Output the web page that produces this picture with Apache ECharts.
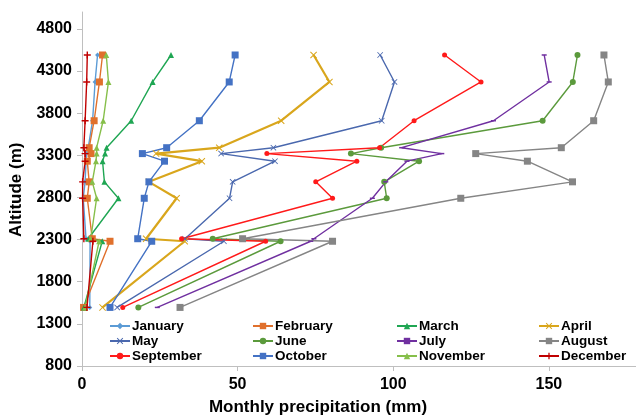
<!DOCTYPE html>
<html>
<head>
<meta charset="utf-8">
<script src="https://cdn.jsdelivr.net/npm/echarts@6/dist/echarts.min.js"></script>
<style>
html,body{margin:0;padding:0;background:#fff;}
#chart{width:636px;height:418px;}
</style>
</head>
<body>
<div id="chart"></div>
<script>
// Altitude levels (m) of the stations, top to bottom
const altitudes = [4490, 4170, 3710, 3390, 3320, 3230, 2985, 2790, 2310, 2280, 1495];
// Monthly precipitation (mm) at each altitude level
const january   = [5.0, 4.2, 3.4, 2.0, 1.4, 1.3, 1.0, 0.4, 1.3, 2.6, 2.5];
const february  = [6.6, 5.6, 3.9, 2.3, 2.9, 1.7, 2.3, 1.7, 3.3, 9.0, 0.5];
const march     = [28.6, 22.7, 15.8, 7.9, 7.4, 6.6, 7.2, 11.7, 2.0, 6.5, 0.6];
const april     = [74.4, 79.5, 64.0, 44.1, 23.8, 38.5, 21.5, 30.4, 20.6, 33.0, 6.6];
const may       = [95.8, 100.4, 96.3, 61.5, 44.7, 62.0, 48.4, 47.4, 33.1, 45.6, 11.3];
const june      = [159.2, 157.7, 148.0, 96.1, 86.4, 108.3, 97.1, 97.9, 42.0, 63.8, 18.1];
const july      = [148.5, 150.1, 132.2, 102.7, 115.6, 104.4, 97.6, 93.3, 74.5, 73.5, 24.2];
const august    = [167.7, 169.1, 164.4, 154.0, 126.5, 143.1, 157.6, 121.7, 51.6, 80.5, 31.5];
const september = [116.5, 128.2, 106.7, 95.6, 59.4, 88.3, 75.1, 80.5, 32.0, 59.0, 13.1];
const october   = [49.2, 47.3, 37.7, 27.2, 19.4, 26.5, 21.5, 20.0, 17.9, 22.4, 9.0];
const november  = [7.8, 8.5, 6.8, 4.7, 4.7, 4.5, 3.3, 4.7, 2.8, 5.5, 1.0];
const december  = [1.7, 1.5, 1.0, 0.6, 1.0, 1.0, 0.2, 0.2, 0.6, 3.5, 1.6];
const monthNames = ['January','February','March','April','May','June','July','August','September','October','November','December'];
const yTicks = [800, 1300, 1800, 2300, 2800, 3300, 3800, 4300, 4800];
const xTicks = [0, 50, 100, 150];

const X_SYM = 'path://M1,0L5,4L9,0L10,1L6,5L10,9L9,10L5,6L1,10L0,9L4,5L0,1Z';
const PLUS_SYM = 'path://M4,0H6V4H10V6H6V10H4V6H0V4H4Z';

const styles = {
  January:   {data: january,   color: '#5b9bd5', symbol: 'diamond',  size: 5, width: 1.4},
  February:  {data: february,  color: '#e0702c', symbol: 'rect',     size: 7, width: 1.4},
  March:     {data: march,     color: '#1fa653', symbol: 'triangle', size: 6, width: 1.4},
  April:     {data: april,     color: '#d9a61c', symbol: X_SYM,      size: 7, width: 2.2},
  May:       {data: may,       color: '#4a68ae', symbol: X_SYM,      size: 6, width: 1.4},
  June:      {data: june,      color: '#5b9a3c', symbol: 'circle',   size: 6, width: 1.4},
  July:      {data: july,      color: '#7030a0', symbol: 'rect',     size: [5, 1.5], width: 1.4},
  August:    {data: august,    color: '#858585', symbol: 'rect',     size: 7, width: 1.4},
  September: {data: september, color: '#ff1a1a', symbol: 'circle',   size: 5, width: 1.4},
  October:   {data: october,   color: '#4472c4', symbol: 'rect',     size: 7, width: 1.4},
  November:  {data: november,  color: '#86bf4a', symbol: 'triangle', size: 6, width: 1.4},
  December:  {data: december,  color: '#c00000', symbol: PLUS_SYM,   size: 7, width: 1.4}
};

const series = monthNames.map(function (m) {
  const s = styles[m];
  return {
    name: m,
    type: 'line',
    data: s.data.map(function (v, i) { return [v, altitudes[i]]; }),
    symbol: s.symbol,
    symbolSize: s.size,
    showAllSymbol: true,
    lineStyle: {color: s.color, width: s.width},
    itemStyle: {color: s.color},
    animation: false
  };
});

const FONT = 'Liberation Sans, Arial, sans-serif';
function legendCol(names, left) {
  return {
    orient: 'vertical',
    left: left,
    top: 314,
    itemWidth: 20,
    itemHeight: 8,
    itemGap: 1,
    data: names,
    textStyle: {fontFamily: FONT, fontWeight: 'bold', fontSize: 13.5, color: '#000', padding: [0, 0, 0, -3]}
  };
}

const chart = echarts.init(document.getElementById('chart'), null, {renderer: 'canvas'});
chart.setOption({
  backgroundColor: '#fff',
  animation: false,
  grid: {left: 82, right: 0, top: 12, bottom: 52, containLabel: false},
  xAxis: {
    type: 'value', min: 0, max: 178, interval: 50,
    splitLine: {show: false},
    axisLine: {lineStyle: {color: '#bfbfbf', width: 1}},
    axisTick: {show: true, length: 5, lineStyle: {color: '#bfbfbf'}, customValues: xTicks},
    axisLabel: {customValues: xTicks, margin: 11, fontFamily: FONT, fontWeight: 'bold', fontSize: 16, color: '#000',
                formatter: function (v) { return String(v); }}
  },
  yAxis: {
    type: 'value', min: 800, max: 5000, interval: 500,
    splitLine: {show: false},
    axisLine: {show: true, lineStyle: {color: '#bfbfbf', width: 1}},
    axisTick: {show: true, length: 5, lineStyle: {color: '#bfbfbf'}, customValues: yTicks},
    axisLabel: {customValues: yTicks, margin: 10, fontFamily: FONT, fontWeight: 'bold', fontSize: 16, color: '#000',
                formatter: function (v) { return String(v); }}
  },
  legend: [
    legendCol(['January', 'May', 'September'], 104),
    legendCol(['February', 'June', 'October'], 247),
    legendCol(['March', 'July', 'November'], 391),
    legendCol(['April', 'August', 'December'], 533)
  ],
  graphic: [
    {type: 'text', left: 'center', top: 399, style: {text: 'Monthly precipitation (mm)', font: 'bold 17px Liberation Sans, Arial, sans-serif', fill: '#000'}},
    {type: 'text', rotation: Math.PI / 2, x: 8, y: 237, style: {text: 'Altitude (m)', font: 'bold 17px Liberation Sans, Arial, sans-serif', fill: '#000'}}
  ],
  series: series
});
</script>
</body>
</html>
